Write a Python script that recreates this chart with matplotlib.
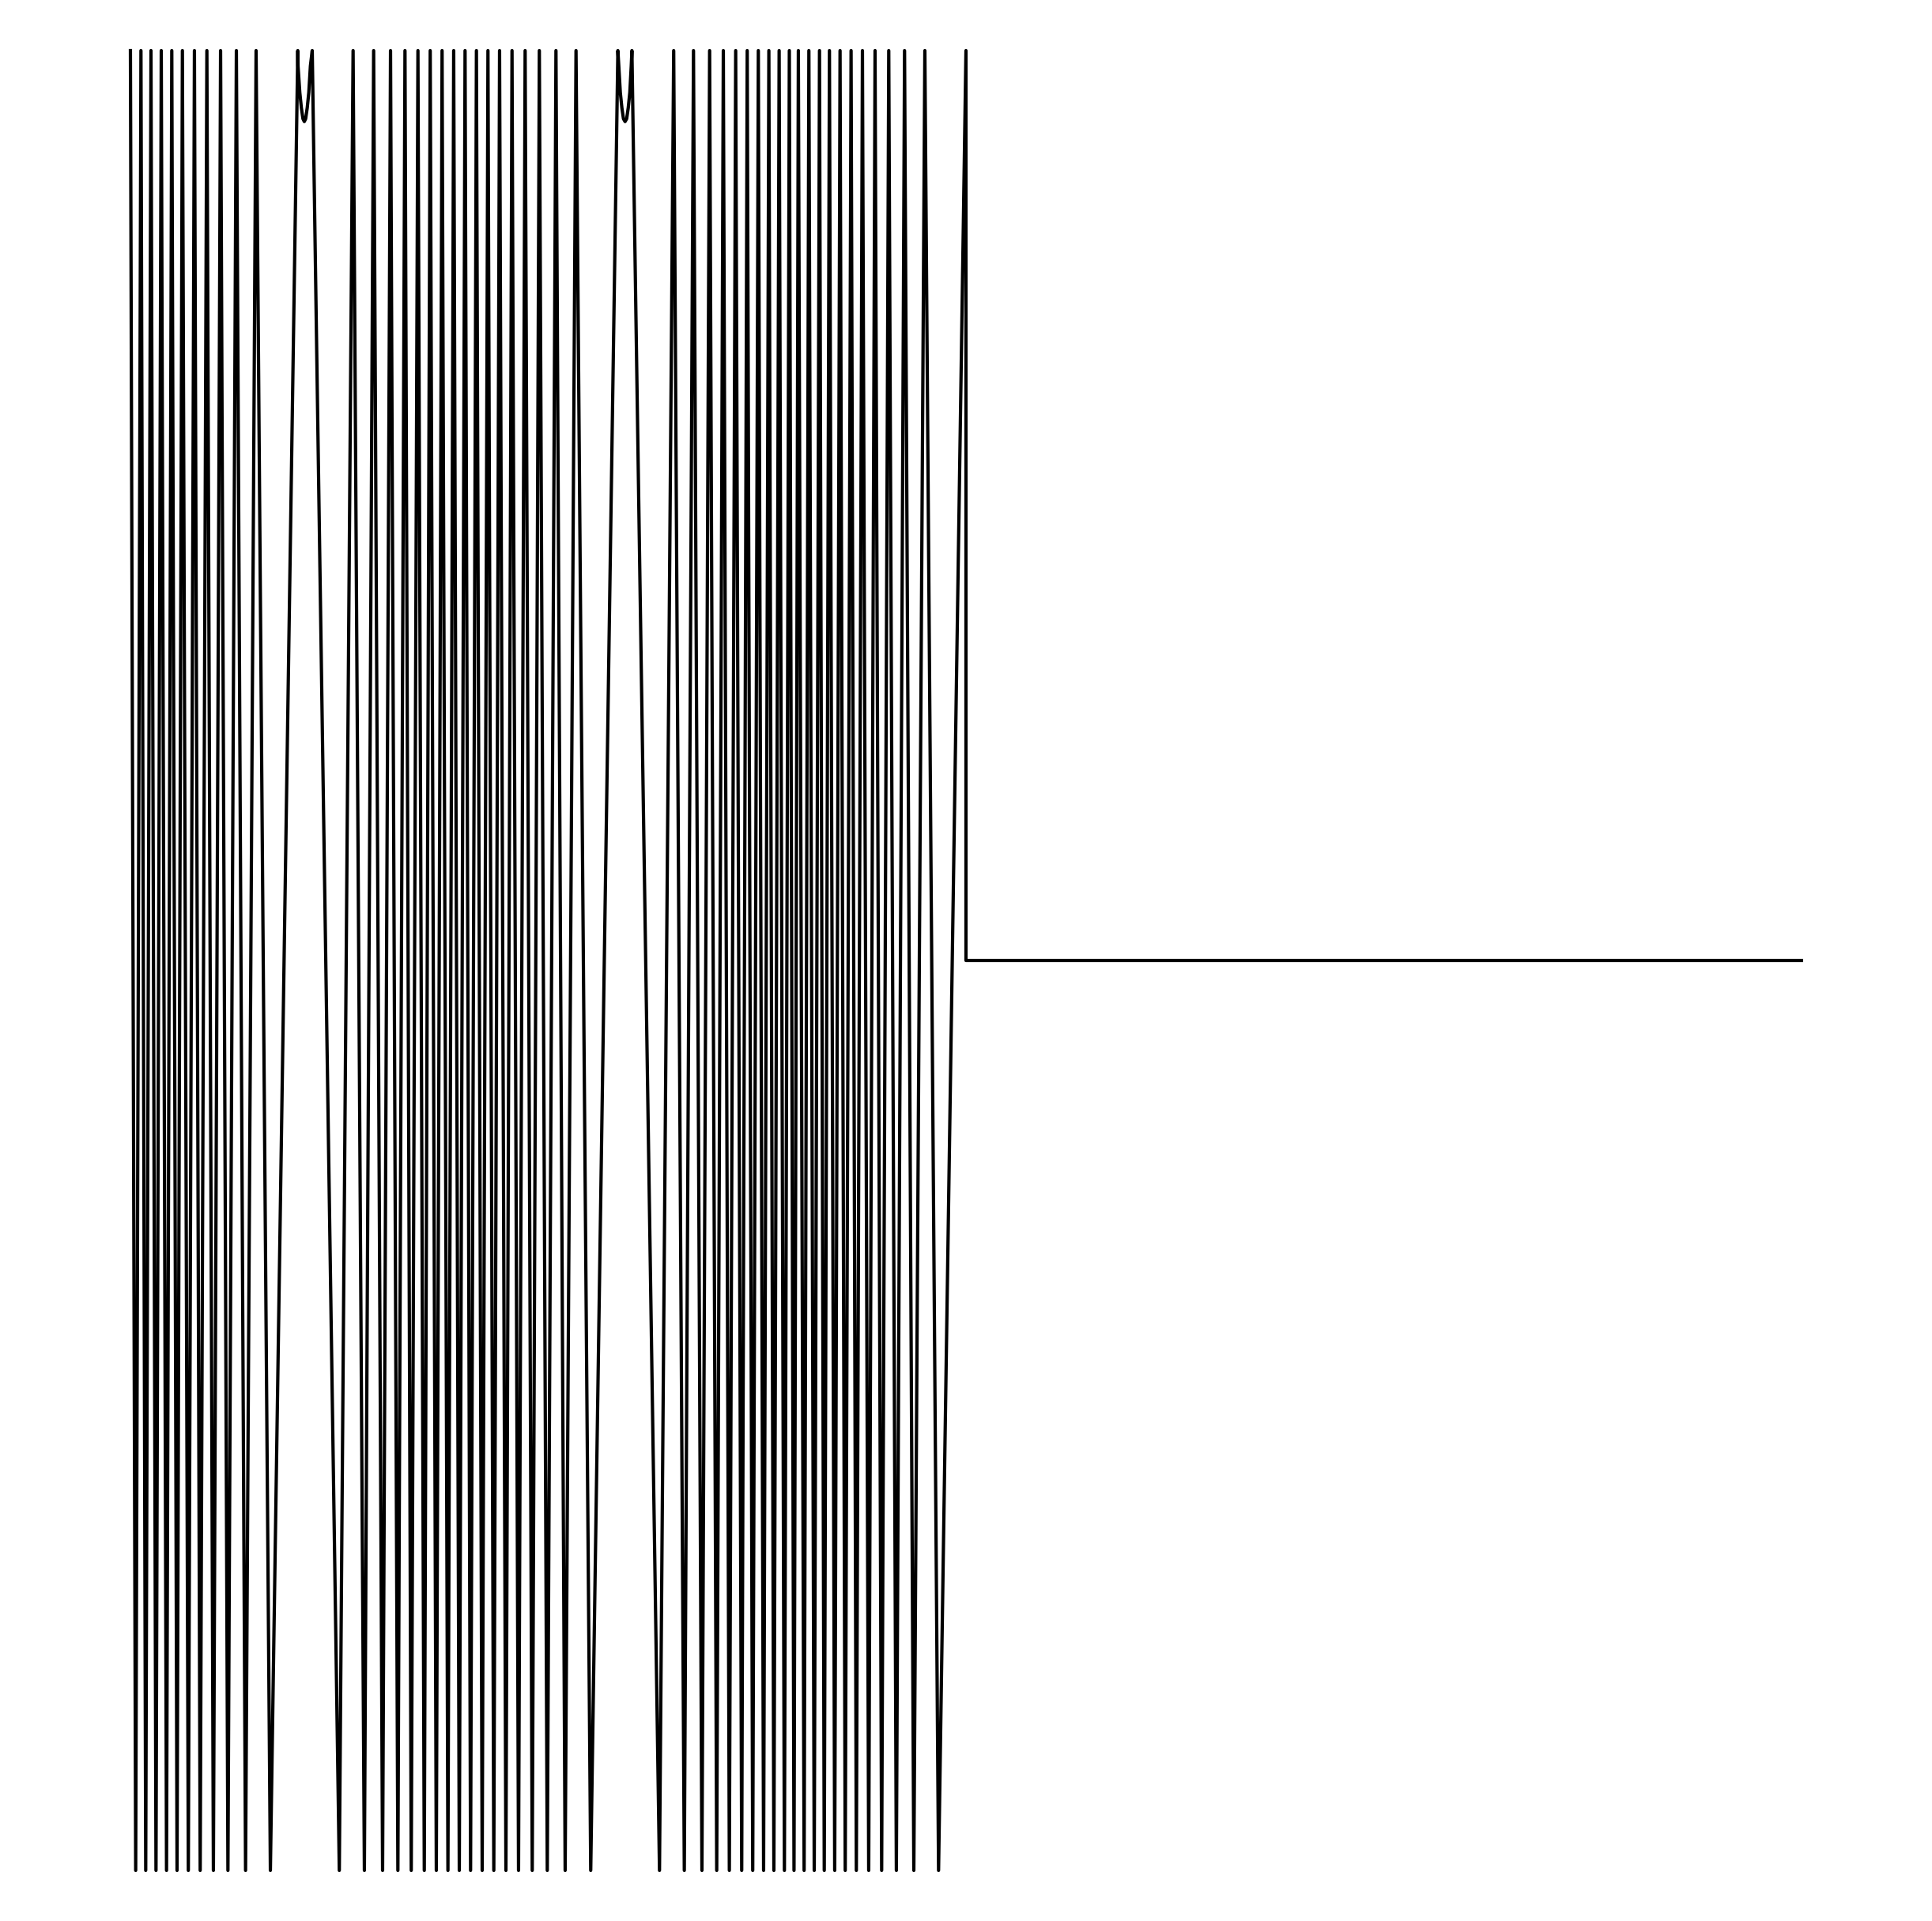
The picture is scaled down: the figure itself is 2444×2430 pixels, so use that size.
import numpy as np
import matplotlib
matplotlib.use("Agg")
import matplotlib.pyplot as plt

# x positions (in units of the signal length) where the wave touches the top
peak_x = [0.000, 0.0126, 0.0246, 0.0369, 0.0495, 0.0622, 0.0766, 0.0915, 0.1079, 0.1268, 0.1504,
          0.2665, 0.2911, 0.3113, 0.3286, 0.3441, 0.3588, 0.3730, 0.3869, 0.4005, 0.4141,
          0.4279, 0.4418, 0.4567, 0.4724, 0.4894, 0.5093, 0.5333,
          0.6502, 0.6739, 0.6932, 0.7096, 0.7244, 0.7382, 0.7515, 0.7641, 0.7764, 0.7886,
          0.7994, 0.8120, 0.8247, 0.8366, 0.8493, 0.8625, 0.8761, 0.8912, 0.9076, 0.9265,
          0.9508, 1.000]

# x positions where the wave touches the bottom
trough_x = [0.0063, 0.0183, 0.0306, 0.0432, 0.0558, 0.0693, 0.0835, 0.0993, 0.1167, 0.1378, 0.1675,
            0.2500, 0.2800, 0.3018, 0.3201, 0.3361, 0.3517, 0.3661, 0.3800, 0.3936, 0.4071,
            0.4210, 0.4349, 0.4494, 0.4645, 0.4809, 0.4989, 0.5203, 0.5509,
            0.6332, 0.6629, 0.6840, 0.7017, 0.7168, 0.7316, 0.7448, 0.7578, 0.7701, 0.7827,
            0.7942, 0.8063, 0.8184, 0.8304, 0.8429, 0.8555, 0.8688, 0.8836, 0.8991, 0.9167,
            0.9376, 0.9672]

# the two spots where the wave turns back just below the top
dip1_x = [0.2003, 0.2006, 0.2027, 0.2046, 0.2065, 0.2081, 0.2097, 0.2116, 0.2135, 0.2154, 0.2176]
dip2_x = [0.5834, 0.5845, 0.5863, 0.5882, 0.5901, 0.5920, 0.5939, 0.5958, 0.5977, 0.5994, 0.6002]
dip_y = [1.0, 0.983, 0.954, 0.937, 0.925, 0.922, 0.925, 0.937, 0.954, 0.983, 1.0]

# after the signal ends the line sits at zero
tail_x = [1.0, 2.0]
tail_y = [0.0, 0.0]

pts = [(x, 1.0) for x in peak_x] + [(x, -1.0) for x in trough_x]
pts += list(zip(dip1_x, dip_y)) + list(zip(dip2_x, dip_y))
pts.sort(key=lambda p: p[0])
x = [p[0] for p in pts] + tail_x
y = [p[1] for p in pts] + tail_y

fig = plt.figure(figsize=(24.44, 24.30), dpi=100)
ax = fig.add_axes([0.06448, 0.0216, 0.8710, 0.9533])

ax.plot(x, y, color='black', lw=3)

ax.set_xlim(-0.007, 2.007)
ax.set_ylim(-1.01, 1.0026)
ax.axis('off')

plt.savefig('out.png', dpi=100)
